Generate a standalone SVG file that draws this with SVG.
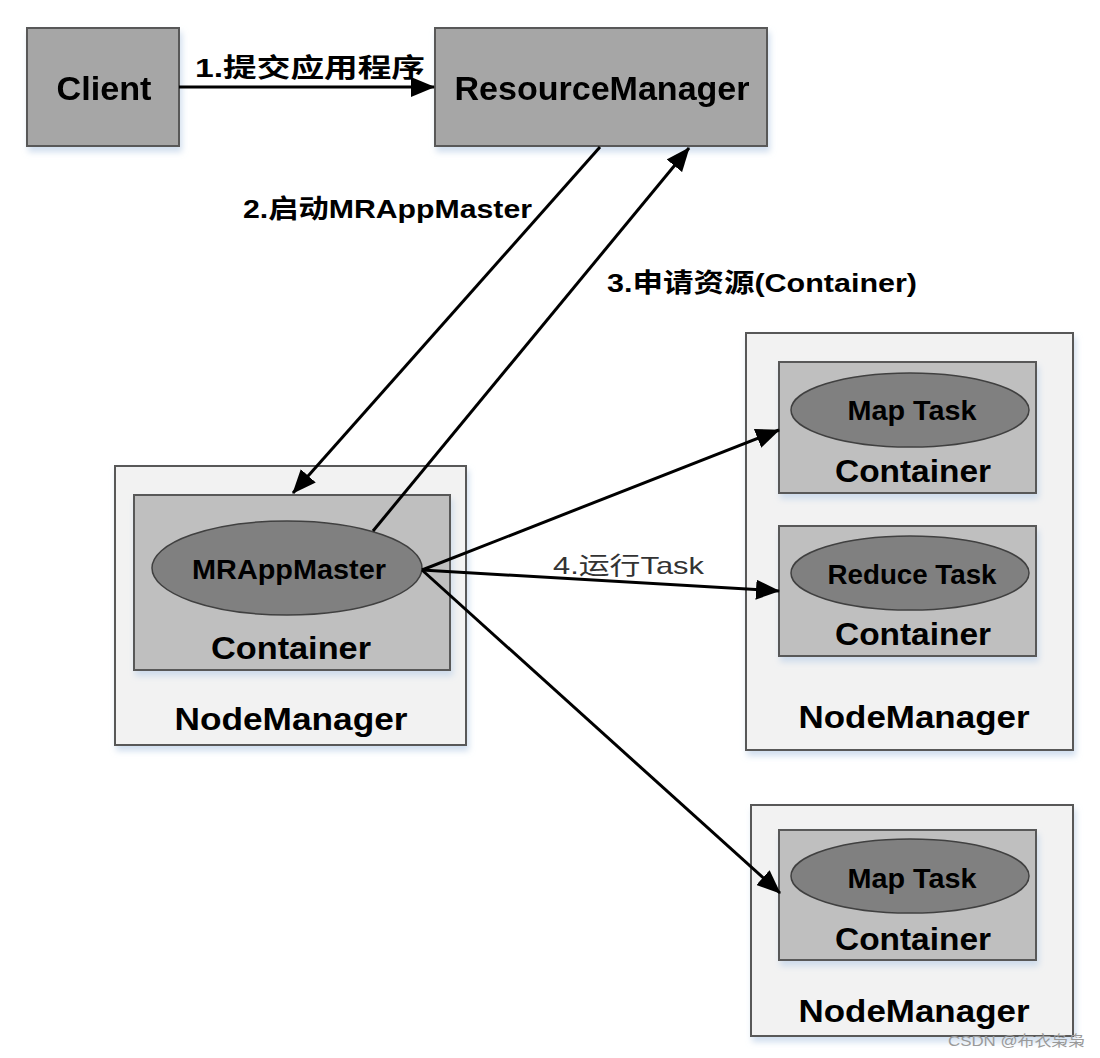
<svg xmlns="http://www.w3.org/2000/svg" width="1100" height="1058" viewBox="0 0 1100 1058">
<defs>
<filter id="sh" x="-10%" y="-10%" width="125%" height="130%">
<feGaussianBlur in="SourceAlpha" stdDeviation="3"/>
<feOffset dx="2" dy="5" result="b"/>
<feFlood flood-color="#c5d6ea" flood-opacity="0.8"/>
<feComposite in2="b" operator="in"/>
<feMerge><feMergeNode/><feMergeNode in="SourceGraphic"/></feMerge>
</filter>
<marker id="ah" markerWidth="12" markerHeight="10" refX="11" refY="5" orient="auto" markerUnits="userSpaceOnUse" viewBox="0 0 12 10">
<path d="M0,0 L12,5 L0,10 z" fill="#000"/>
</marker>
<marker id="ahb" markerWidth="24" markerHeight="20" refX="23" refY="10" orient="auto" markerUnits="userSpaceOnUse" viewBox="0 0 24 20">
<path d="M0,0 L24,10 L0,20 z" fill="#000"/>
</marker>
</defs>
<style>
.dark{fill:#a6a6a6;stroke:#595959;stroke-width:2}
.nm{fill:#f2f2f2;stroke:#595959;stroke-width:2}
.ct{fill:#bfbfbf;stroke:#595959;stroke-width:2}
.el{fill:#808080;stroke:#404040;stroke-width:1.5}
.t{font-family:"Liberation Sans","Noto Sans CJK SC",sans-serif;font-weight:bold;fill:#000;text-anchor:middle}
.lbl{font-family:"Liberation Sans","Noto Sans CJK SC",sans-serif;font-weight:bold;fill:#000}
.c{stroke:#000;stroke-width:3;fill:none}
</style>
<rect width="1100" height="1058" fill="#fff"/>

<g id="client" filter="url(#sh)">
<rect class="dark" x="27" y="28" width="152" height="118"/>
<text class="t" x="104" y="100" font-size="33" textLength="95" lengthAdjust="spacingAndGlyphs">Client</text>
</g>

<g id="resourcemanager" filter="url(#sh)">
<rect class="dark" x="435" y="28" width="332" height="118"/>
<text class="t" x="602" y="100" font-size="33" textLength="295" lengthAdjust="spacingAndGlyphs">ResourceManager</text>
</g>

<g id="nodemanager-left">
<rect class="nm" x="115" y="466" width="351" height="279" filter="url(#sh)"/>
<rect class="ct" x="134" y="495" width="316" height="175" filter="url(#sh)"/>
<ellipse class="el" cx="287" cy="568" rx="135" ry="47"/>
<text class="t" x="289" y="579" font-size="27" textLength="194" lengthAdjust="spacingAndGlyphs">MRAppMaster</text>
<text class="t" x="291" y="659" font-size="32" textLength="160" lengthAdjust="spacingAndGlyphs">Container</text>
<text class="t" x="291" y="730" font-size="32" textLength="233" lengthAdjust="spacingAndGlyphs">NodeManager</text>
</g>

<g id="nodemanager-right1">
<rect class="nm" x="746" y="333" width="327" height="417" filter="url(#sh)"/>
<rect class="ct" x="779" y="362" width="257" height="131" filter="url(#sh)"/>
<ellipse class="el" cx="910" cy="410" rx="119" ry="37"/>
<text class="t" x="912" y="420" font-size="27" textLength="129" lengthAdjust="spacingAndGlyphs">Map Task</text>
<text class="t" x="913" y="482" font-size="32" textLength="156" lengthAdjust="spacingAndGlyphs">Container</text>
<rect class="ct" x="779" y="526" width="257" height="130" filter="url(#sh)"/>
<ellipse class="el" cx="910" cy="573" rx="119" ry="37"/>
<text class="t" x="912" y="584" font-size="27" textLength="169" lengthAdjust="spacingAndGlyphs">Reduce Task</text>
<text class="t" x="913" y="645" font-size="32" textLength="156" lengthAdjust="spacingAndGlyphs">Container</text>
<text class="t" x="914" y="728" font-size="32" textLength="231" lengthAdjust="spacingAndGlyphs">NodeManager</text>
</g>

<g id="nodemanager-right2">
<rect class="nm" x="751" y="805" width="322" height="231" filter="url(#sh)"/>
<rect class="ct" x="779" y="830" width="257" height="130" filter="url(#sh)"/>
<ellipse class="el" cx="910" cy="876" rx="119" ry="37"/>
<text class="t" x="912" y="888" font-size="27" textLength="129" lengthAdjust="spacingAndGlyphs">Map Task</text>
<text class="t" x="913" y="950" font-size="32" textLength="156" lengthAdjust="spacingAndGlyphs">Container</text>
<text class="t" x="914" y="1022" font-size="32" textLength="231" lengthAdjust="spacingAndGlyphs">NodeManager</text>
</g>

<g id="connectors">
<line class="c" x1="179" y1="87" x2="434" y2="87" marker-end="url(#ahb)"/>
<line class="c" x1="600" y1="147" x2="293" y2="493" marker-end="url(#ahb)"/>
<line class="c" x1="373" y1="531" x2="689" y2="148" marker-end="url(#ahb)"/>
<line class="c" x1="422" y1="570" x2="779" y2="430" marker-end="url(#ahb)"/>
<line class="c" x1="422" y1="570" x2="779" y2="591" marker-end="url(#ahb)"/>
<line class="c" x1="422" y1="570" x2="780" y2="893" marker-end="url(#ahb)"/>
<text class="lbl" x="195" y="77" font-size="26" textLength="230" lengthAdjust="spacingAndGlyphs">1.提交应用程序</text>
<text class="lbl" x="243" y="218" font-size="26" textLength="289" lengthAdjust="spacingAndGlyphs">2.启动MRAppMaster</text>
<text class="lbl" x="607" y="292" font-size="26" textLength="310" lengthAdjust="spacingAndGlyphs">3.申请资源(Container)</text>
<text x="553" y="574" font-family="'Liberation Sans','Noto Sans CJK SC',sans-serif" font-size="24" fill="#333" textLength="151" lengthAdjust="spacingAndGlyphs">4.运行Task</text>
</g>

<text x="948" y="1046" font-family="'Liberation Sans','Noto Sans CJK SC',sans-serif" font-size="15" fill="#9a9a9a" textLength="137" lengthAdjust="spacingAndGlyphs">CSDN @布衣枭枭</text>
</svg>
